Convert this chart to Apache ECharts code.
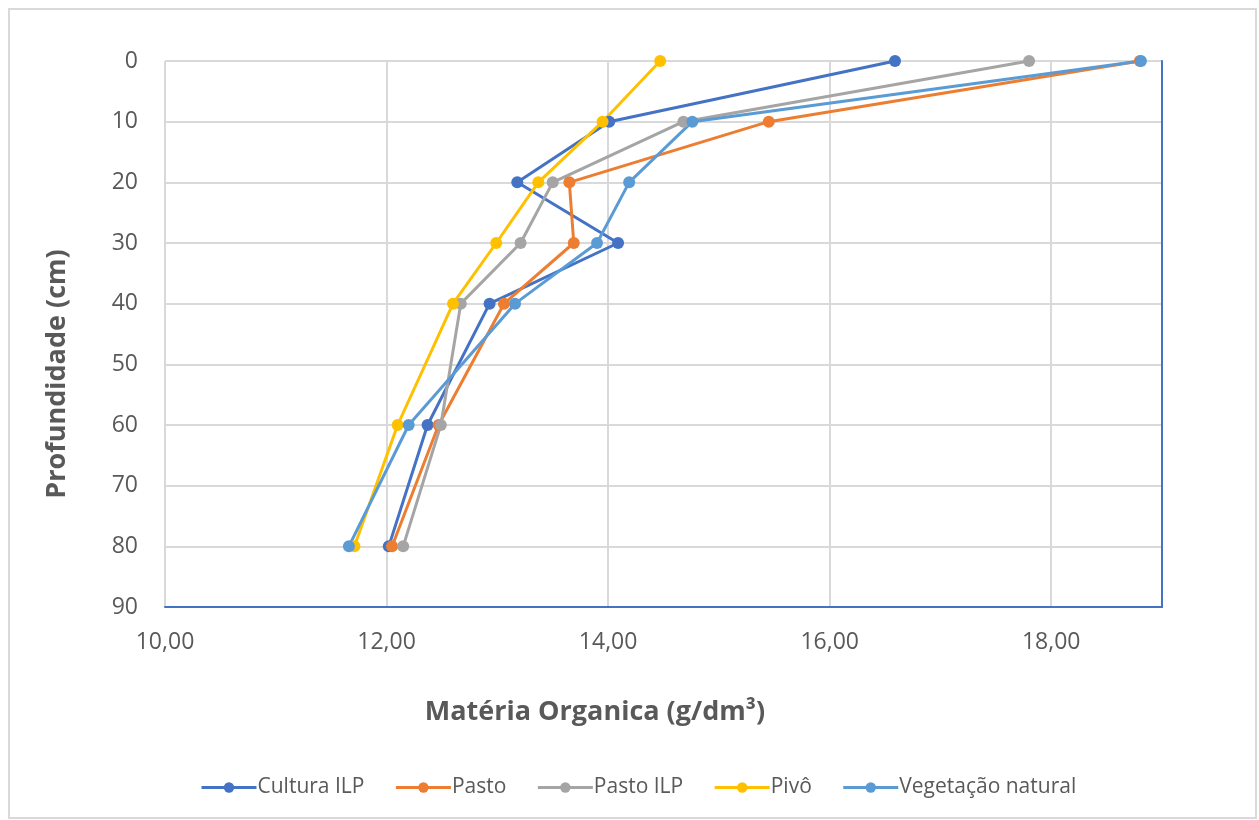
<!DOCTYPE html>
<html>
<head>
<meta charset="utf-8">
<script src="https://cdn.jsdelivr.net/npm/echarts@6/dist/echarts.min.js"></script>
<style>
  html, body { margin: 0; padding: 0; background: #fff; }
  #chart { width: 1259px; height: 820px; }
</style>
</head>
<body>
<div id="chart"></div>
<script>
// Depth of each soil sample (cm)
const depths = [0, 10, 20, 30, 40, 60, 80];

// Organic matter (g/dm³) per land use, one value per depth
const culturaILP = [16.59, 14.01, 13.18, 14.09, 12.93, 12.37, 12.02];
const pasto      = [18.80, 15.45, 13.65, 13.69, 13.06, 12.47, 12.05];
const pastoILP   = [17.80, 14.68, 13.50, 13.21, 12.67, 12.49, 12.15];
const pivo       = [14.47, 13.95, 13.37, 12.99, 12.60, 12.10, 11.71];
const vegetacao  = [18.81, 14.76, 14.19, 13.90, 13.16, 12.20, 11.66];

const seriesNames = ['Cultura ILP', 'Pasto', 'Pasto ILP', 'Pivô', 'Vegetação natural'];
const seriesValues = [culturaILP, pasto, pastoILP, pivo, vegetacao];
const colors = ['#4472C4', '#ED7D31', '#A5A5A5', '#FFC000', '#5B9BD5'];

const xTitle = 'Matéria Organica (g/dm³)';
const yTitle = 'Profundidade (cm)';

const textColor = '#595959';
const fontFamily = '"Open Sans", "Noto Sans", sans-serif';

const chart = echarts.init(document.getElementById('chart'), null, { renderer: 'canvas' });

const series = seriesNames.map((name, i) => ({
  name: name,
  type: 'line',
  data: seriesValues[i].map((v, k) => [v, depths[k]]),
  symbol: 'circle',
  symbolSize: 12,
  color: colors[i],
  lineStyle: { width: 3, color: colors[i] },
  itemStyle: { color: colors[i] },
  emphasis: { disabled: true },
  animation: false
}));

chart.setOption({
  animation: false,
  backgroundColor: '#ffffff',
  grid: { left: 165, right: 97, top: 61, bottom: 213, containLabel: false },
  xAxis: {
    type: 'value',
    min: 10,
    max: 19,
    interval: 2,
    position: 'bottom',
    axisLine: { show: true, onZero: false, lineStyle: { color: '#4472C4', width: 2 } },
    axisTick: { show: false },
    axisLabel: {
      color: textColor,
      fontFamily: fontFamily,
      fontSize: 23,
      margin: 24,
      showMaxLabel: false,
      formatter: v => v.toFixed(2).replace('.', ',')
    },
    splitLine: { show: true, lineStyle: { color: '#D9D9D9', width: 2 } }
  },
  yAxis: [{
    type: 'value',
    inverse: true,
    min: 0,
    max: 90,
    interval: 10,
    position: 'left',
    axisLine: { show: false },
    axisTick: { show: false },
    axisLabel: {
      color: textColor,
      fontFamily: fontFamily,
      fontSize: 23,
      margin: 27
    },
    splitLine: { show: true, lineStyle: { color: '#D9D9D9', width: 2 } }
  }, {
    type: 'value',
    inverse: true,
    min: 0,
    max: 90,
    position: 'right',
    axisLine: { show: true, onZero: false, lineStyle: { color: '#4472C4', width: 2 } },
    axisTick: { show: false },
    axisLabel: { show: false },
    splitLine: { show: false }
  }],
  legend: {
    data: seriesNames,
    left: 195,
    top: 772,
    itemWidth: 55,
    itemHeight: 13,
    itemGap: 30,
    lineStyle: { width: 3 },
    textStyle: { color: textColor, fontFamily: fontFamily, fontSize: 21, padding: [0, 0, 0, -4] }
  },
  graphic: [
    {
      type: 'rect',
      shape: { x: 9, y: 9, width: 1247, height: 809 },
      style: { fill: null, stroke: '#D9D9D9', lineWidth: 2 },
      silent: true,
      z: -10
    },
    {
      type: 'text',
      x: 595,
      y: 712,
      style: {
        text: xTitle,
        fill: textColor,
        font: 'bold 27px ' + fontFamily,
        textAlign: 'center',
        textVerticalAlign: 'middle'
      }
    },
    {
      type: 'text',
      x: 57,
      y: 374,
      rotation: Math.PI / 2,
      style: {
        text: yTitle,
        fill: textColor,
        font: 'bold 27px ' + fontFamily,
        textAlign: 'center',
        textVerticalAlign: 'middle'
      }
    }
  ],
  series: series
});
</script>
</body>
</html>
